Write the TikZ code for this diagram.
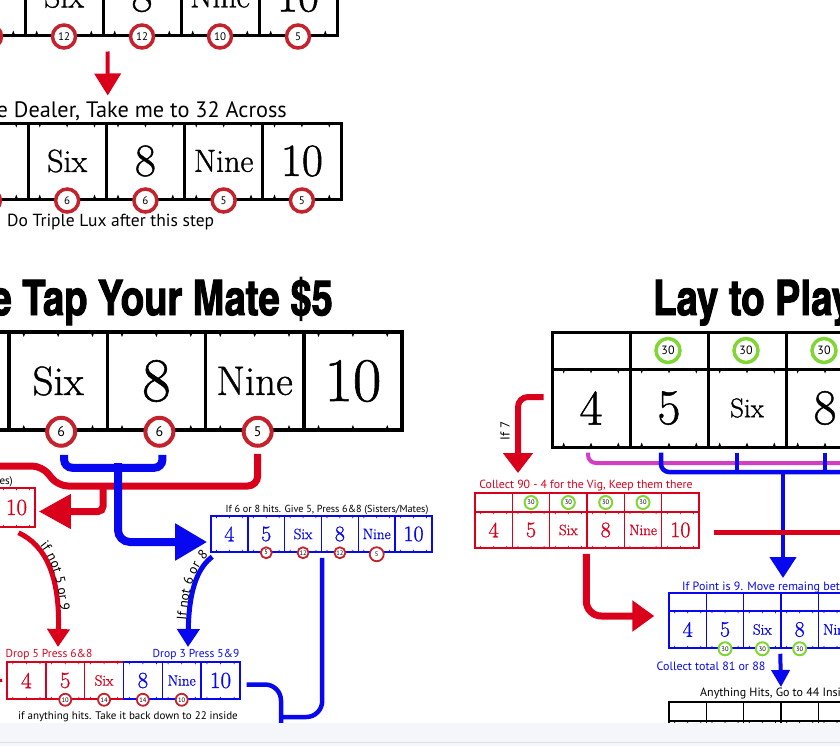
\documentclass[tikz,border=0pt]{standalone}
\usepackage{fontspec}
\newfontfamily\labelfont{PT Sans}
\newfontfamily\cellfont{Latin Modern Roman}[FakeBold=1]
\newfontfamily\titlefont{texgyreheroscn-bold.otf}[FakeBold=2]
\usetikzlibrary{arrows.meta,calc,decorations.text}
\definecolor{arrowred}{RGB}{218,0,28}
\definecolor{chipred}{RGB}{196,34,44}
\definecolor{boxblue}{RGB}{8,8,240}
\definecolor{chipgreen}{RGB}{128,214,52}
\definecolor{pipemagenta}{RGB}{212,62,192}
\definecolor{barbg}{RGB}{245,246,250}
\definecolor{barline}{RGB}{222,223,227}
\begin{document}
\begin{tikzpicture}[
        x = 1pt, y = -1pt, % one unit per pixel, y runs down
        cell/.style = {draw, line width=#1, inner sep=0pt},
        ticks/.style n args = {3}{path picture={
            \foreach \f in {0.15,0.5,0.85} {
                \fill[#3] ($(path picture bounding box.north west)!\f!(path picture bounding box.north east)$)
                    ++(-#1,0pt) -- ++(2*#1,0pt) -- ++(-#1,-#2) -- cycle;
                \fill[#3] ($(path picture bounding box.south west)!\f!(path picture bounding box.south east)$)
                    ++(-#1,0pt) -- ++(2*#1,0pt) -- ++(-#1,#2) -- cycle;
            }}},
        cellsize/.style = {font=\cellfont\fontsize{#1}{#1}\selectfont},
        chip/.style 2 args = {circle, draw=#1, line width=#2, fill=white, inner sep=0pt},
        note/.style = {font=\labelfont\fontsize{#1}{#1}\selectfont, inner sep=0pt},
        redpipe/.style = {draw=arrowred, line width=#1},
        bluepipe/.style = {draw=boxblue, line width=#1},
        curvenote/.style 2 args = {decorate, decoration={text along path, raise=3pt,
            text align={left indent=#2}, text={|\labelfont\fontsize{13.5}{13.5}\selectfont|#1}}},
    ]
    \useasboundingbox (0,0) rectangle (840,745);
    \clip (0,0) rectangle (840,760);

    % row at the top, cut off
    \foreach \lab/\sz [count=\i] in {5/46,Six/32,8/46,Nine/32,10/46}
        \node[cell=3pt, ticks={1.7pt}{4.5pt}{black}, minimum width=78pt, minimum height=77pt,
              cellsize=\sz] (top\i) at ({-14+78*(\i-1)}, -3.5) {\lab};
    \node[chip={chipred}{3.5pt}, minimum size=23pt] (topchip1) at ([xshift=4pt]top1.south) {};
    \foreach \i/\amt in {2/12,3/12,4/10,5/5}
        \node[chip={chipred}{3.5pt}, minimum size=23pt, note=11] (topchip\i) at (top\i.south) {\amt};

    \node[note=22.3, anchor=base east] (dealer) at (287,117) {e Dealer, Take me to 32 Across};

    % 32 across
    \foreach \lab/\sz [count=\i] in {5/46,Six/32,8/46,Nine/32,10/46}
        \node[cell=3pt, ticks={1.7pt}{4.5pt}{black}, minimum width=78.25pt, minimum height=76pt,
              cellsize=\sz] (across\i) at ({-11.1+78.25*(\i-1)}, 161) {\lab};
    \foreach \i/\amt in {1/{},2/6,3/6,4/5,5/5}
        \node[chip={chipred}{3.5pt}, minimum size=23pt, note=11] (acrosschip\i) at (across\i.south) {\amt};
    \node[note=17.5, anchor=base west] (triple) at (7,226) {Do Triple Lux after this step};

    \draw[redpipe=4pt, -{Triangle[length=22pt,width=26pt]}]
        ([xshift=3pt,yshift=-15pt]top2.south east) -- ([yshift=26pt]across2.north east);

    % tap your mate
    \node[font=\titlefont\fontsize{49}{49}\selectfont, anchor=base east, inner sep=0pt,
          xscale=0.95, transform shape] (taptitle) at (333,315) {e Tap Your Mate \$5};
    \foreach \lab/\sz [count=\i] in {5/62,Six/41,8/62,Nine/41,10/62}
        \node[cell=3.5pt, ticks={2pt}{5pt}{black}, minimum width=98.25pt, minimum height=98pt,
              cellsize=\sz] (tap\i) at ({-40.1+98.25*(\i-1)}, 381) {\lab};
    \foreach \i/\amt in {2/6,3/6,4/5}
        \node[chip={chipred}{4pt}, minimum size=28pt, note=14] (tapchip\i) at ([xshift=3pt]tap\i.south) {\amt};

    % left group, cut off
    \node[cell=1.5pt, draw=arrowred, text=arrowred, ticks={0.9pt}{2.5pt}{arrowred}, minimum width=37pt,
          minimum height=39pt, cellsize=23] (left10) at (16.5,507.5) {10};
    \node[note=11, anchor=base east] (leftnote) at (13,484) {tes)};

    % sisters / mates
    \node[note=10.2, anchor=base] (givenote) at (327,512) {If 6 or 8 hits. Give 5, Press 6\&8 (Sisters/Mates)};
    \foreach \lab/\sz [count=\i] in {4/22,5/22,Six/15,8/22,Nine/15,10/22}
        \node[cell=1.5pt, draw=boxblue, text=boxblue, ticks={0.9pt}{2.5pt}{boxblue}, minimum width=36.83pt,
              minimum height=36pt, cellsize=\sz] (give\i) at ({229.4+36.83*(\i-1)}, 534) {\lab};
    \foreach \i/\amt/\d in {2/5/11,3/12/11,4/12/11,5/5/14}
        \node[chip={chipred}{1.8pt}, minimum size=\d pt, note=6.5] (givechip\i) at ([yshift={-(\d-11)/2}]give\i.south) {\amt};

    % drop and press
    \node[note=11.5, text=arrowred, anchor=base] (dropred) at (49,657) {Drop 5 Press 6\&8};
    \node[note=11.5, text=boxblue, anchor=base] (dropblue) at (196,657) {Drop 3 Press 5\&9};
    \foreach \lab/\sz/\col [count=\i] in {4/23/arrowred,5/23/arrowred,Six/15/arrowred,8/23/boxblue,Nine/15/boxblue,10/23/boxblue}
        \node[cell=1.5pt, draw=\col, text=\col, ticks={0.9pt}{2.5pt}{\col}, minimum width=38.83pt,
              minimum height=37pt, cellsize=\sz] (drop\i) at ({26.4+38.83*(\i-1)}, 680.5) {\lab};
    \foreach \i/\amt in {2/10,3/14,4/14,5/10}
        \node[chip={chipred}{1.8pt}, minimum size=12pt, note=6.5] (dropchip\i) at (drop\i.south) {\amt};
    \node[note=11, anchor=base] (backnote) at (128,719) {if anything hits. Take it back down to 22 inside};

    % lay to play
    \node[font=\titlefont\fontsize{49}{49}\selectfont, anchor=base west, inner sep=0pt,
          xscale=0.95, transform shape] (laytitle) at (653,315) {Lay to Play};
    \foreach \lab/\sz [count=\i] in {4/50,5/50,Six/27,8/50,Nine/27} {
        \node[cell=3pt, minimum width=78pt, minimum height=37pt] (laybet\i) at ({591+78*(\i-1)}, 350.5) {};
        \node[cell=3pt, ticks={1.7pt}{4.5pt}{black}, minimum width=78pt, minimum height=78pt,
              cellsize=\sz] (lay\i) at ({591+78*(\i-1)}, 408) {\lab};
    }
    \foreach \i in {2,3,4}
        \node[chip={chipgreen}{3.5pt}, minimum size=24pt, note=12] (laychip\i) at ([xshift=-1pt]laybet\i) {30};

    % vig
    \node[note=11.8, text=arrowred, anchor=base] (vignote) at (586,488) {Collect 90 - 4 for the Vig, Keep them there};
    \foreach \lab/\sz [count=\i] in {4/22,5/22,Six/15,8/22,Nine/15,10/22} {
        \node[cell=1.5pt, draw=arrowred, minimum width=37.33pt, minimum height=19pt] (vigbet\i) at ({493.7+37.33*(\i-1)}, 502.5) {};
        \node[cell=1.5pt, draw=arrowred, text=arrowred, ticks={0.9pt}{2.5pt}{arrowred}, minimum width=37.33pt,
              minimum height=36pt, cellsize=\sz] (vig\i) at ({493.7+37.33*(\i-1)}, 530) {\lab};
    }
    \foreach \i in {2,3,4,5}
        \node[chip={chipgreen}{2pt}, minimum size=13pt, note=6.5] (vigchip\i) at (vigbet\i) {30};

    % point is 9
    \node[note=12, text=boxblue, anchor=base west] (pointnote) at (682,590) {If Point is 9. Move remaing bet};
    \foreach \lab/\sz [count=\i] in {4/22,5/22,Six/15,8/22,Nine/15} {
        \node[cell=1.5pt, draw=boxblue, minimum width=37.33pt, minimum height=18pt] (pointbet\i) at ({687.7+37.33*(\i-1)}, 602) {};
        \node[cell=1.5pt, draw=boxblue, text=boxblue, ticks={0.9pt}{2.5pt}{boxblue}, minimum width=37.33pt,
              minimum height=37pt, cellsize=\sz] (point\i) at ({687.7+37.33*(\i-1)}, 629.5) {\lab};
    }
    \foreach \i in {2,3,4}
        \node[chip={chipgreen}{2pt}, minimum size=13pt, note=6.5] (pointchip\i) at (point\i.south) {30};
    \node[note=12, text=boxblue, anchor=base] (totalnote) at (711,670) {Collect total 81 or 88};

    % anything hits
    \node[note=12, anchor=base west] (hitsnote) at (700,696) {Anything Hits, Go to 44 Inside};
    \foreach \i in {1,...,5} {
        \node[cell=1.5pt, minimum width=37.33pt, minimum height=19pt] (hitsbet\i) at ({687.7+37.33*(\i-1)}, 711.5) {};
        \node[cell=1.5pt, ticks={0.9pt}{2.5pt}{black}, minimum width=37.33pt, minimum height=37pt] (hits\i) at ({687.7+37.33*(\i-1)}, 739.5) {};
    }

    % connectors, left
    \coordinate (tapsplit) at (118,463);
    \coordinate (redsplit) at (103,486);
    \coordinate (redoff) at (-10,466);
    \coordinate (redin) at (-10,681);
    \coordinate (redland) at (58,647);
    \coordinate (blueland) at (188,647);
    \coordinate (bluedown) at (281,755);
    \draw[redpipe=7pt, rounded corners=10pt] ([yshift=-6pt]tapchip4.south) |- (58,486) -- (42,466) -- (redoff);
    \draw[redpipe=7pt, rounded corners=5pt, -{Triangle[length=32pt,width=33pt]}, shorten >=3pt]
        (redsplit) |- ([yshift=-4pt]left10.east);
    \draw[bluepipe=8pt, rounded corners=8pt] ([xshift=3pt,yshift=-7pt]tapchip2.south) -- ++(0,13)
        -| ([xshift=3pt,yshift=-7pt]tapchip3.south);
    \draw[bluepipe=8pt, rounded corners=12pt, -{Triangle[length=32pt,width=35pt]}, shorten >=3pt]
        (tapsplit) |- ([yshift=-8pt]give1.west);
    \draw[redpipe=5pt, -{Triangle[length=18pt,width=22pt]}]
        ([xshift=2pt,yshift=-5pt]left10.south) .. controls (45,545) and (60,575) .. (redland);
    \path[curvenote={if not 5 or 9}{24pt}]
        ([xshift=2pt,yshift=-5pt]left10.south) .. controls (45,545) and (60,575) .. (redland);
    \draw[bluepipe=5pt, -{Triangle[length=18pt,width=22pt]}]
        ([xshift=2pt,yshift=-4pt]give1.south west) .. controls (200,566) and (189,585) .. (blueland);
    \path[curvenote={If not 6 or 8}{26pt}]
        (blueland) .. controls (189,585) and (200,566) .. ([xshift=2pt,yshift=-4pt]give1.south west);
    \draw[bluepipe=4.5pt, rounded corners=16pt] ([yshift=-5pt]give3.south east) |- (281,717);
    \draw[bluepipe=4.5pt, rounded corners=16pt] ([xshift=6pt,yshift=-4pt]drop6.east) -| (bluedown);
    \draw[redpipe=3pt, shorten >=4pt] (redin) -- (drop1.west);

    % connectors, right
    \coordinate (if7land) at (518,473);
    \coordinate (magoff) at (850,463);
    \coordinate (comboff) at (850,472);
    \coordinate (combsplit) at (783,472);
    \coordinate (pointland) at (783,578);
    \coordinate (redright) at (850,532);
    \coordinate (hitsland) at (781,687);
    \draw[redpipe=6pt, rounded corners=10pt, -{Triangle[length=20pt,width=29pt]}]
        ([xshift=-7pt,yshift=11pt]lay1.west) -| (if7land);
    \node[note=13, rotate=90] (if7) at (505,431) {If 7};
    \draw[draw=pipemagenta, line width=4pt, rounded corners=8pt] ([xshift=-3pt,yshift=-4pt]lay1.south) |- (magoff);
    \draw[bluepipe=4.5pt, rounded corners=8pt] ([xshift=-8pt,yshift=-4pt]lay2.south) |- (comboff);
    \draw[bluepipe=4.5pt] ([xshift=-10pt,yshift=-4pt]lay3.south) -- ++(0,21);
    \draw[bluepipe=4.5pt] ([yshift=-4pt]lay4.south) -- ++(0,21);
    \draw[bluepipe=4.5pt, -{Triangle[length=21pt,width=26pt]}] (combsplit) -- (pointland);
    \draw[redpipe=5pt] ([xshift=14pt,yshift=-2pt]vig6.east) -- (redright);
    \draw[redpipe=7pt, rounded corners=15pt, -{Triangle[length=22pt,width=30pt]}]
        ([yshift=-5pt]vig4.south west) |- ([xshift=-14pt,yshift=13.5pt]point1.west);
    \draw[bluepipe=4pt, -{Triangle[length=17pt,width=18pt]}] ([yshift=-5pt]point4.south west) -- (hitsland);

    % browser bar at the bottom
    \fill[barbg] (-5,723) rectangle (845,760);
    \draw[barline, line width=1pt] (-5,742) -- (845,742);
\end{tikzpicture}
\end{document}
